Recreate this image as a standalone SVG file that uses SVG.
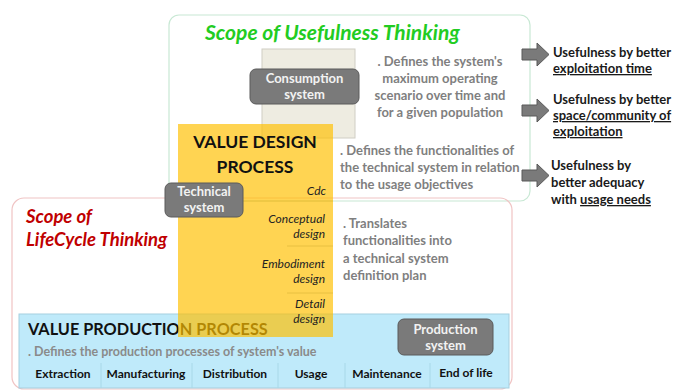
<svg xmlns="http://www.w3.org/2000/svg" width="676" height="390" viewBox="0 0 676 390">
<style>
text{font-family:Lato,"Liberation Sans",sans-serif;font-weight:bold}
.gray{fill:#7f7f7f;font-size:13px}
.blk{fill:#1a1a1a;font-size:13px}
.box{fill:#7a7a7a;stroke:#5a5a5a;stroke-width:1}
.boxt{fill:#f2f2f2;font-size:13px;text-anchor:middle;font-weight:bold}
.stage{fill:#222;font-size:12px;font-style:italic;font-weight:normal;text-anchor:end}
.phase{fill:#111;font-size:12px;text-anchor:middle}
.sep{stroke:#e8c040;stroke-width:1}
.vsep{stroke:#a8d8e8;stroke-width:1}
.arr{fill:#7a7a7a;stroke:#595959;stroke-width:1}
</style>
<rect width="676" height="390" fill="#ffffff"/>
<g id="scope-usefulness">
<rect x="169" y="15" width="361" height="186" rx="10" fill="none" stroke="#c8e8d4" stroke-width="1.2"/>
<text x="205" y="40" font-size="21" font-style="italic" fill="#22cc22">Scope of Usefulness Thinking</text>
</g>
<g id="scope-lifecycle">
<rect x="12" y="198" width="500" height="191" rx="12" fill="none" stroke="#f0c4c4" stroke-width="1.2"/>
<text x="26" y="223" font-size="18.5" font-style="italic" fill="#c00000">Scope of</text>
<text x="26" y="246" font-size="18.5" font-style="italic" fill="#c00000">LifeCycle Thinking</text>
</g>
<g id="consumption-area">
<rect x="262" y="49" width="93" height="89" fill="#eeece1" stroke="#d0cec4" stroke-width="1"/>
</g>
<g id="consumption-system">
<rect class="box" x="250" y="69" width="109" height="35" rx="6"/>
<text class="boxt" x="304.5" y="83">Consumption</text>
<text class="boxt" x="304.5" y="99">system</text>
</g>
<g id="value-production">
<rect x="19" y="314" width="490" height="74" fill="#bfeafa" stroke="#a6cfdf" stroke-width="1"/>
<text x="28" y="335" font-size="16.3" fill="#111">VALUE PRODUCTION PROCESS</text>
<text x="28" y="356" font-size="12.5" fill="#8a8a8a">. Defines the production processes of system's value</text>
<g id="phases">
<line class="vsep" x1="101" y1="363" x2="101" y2="388"/>
<line class="vsep" x1="192" y1="363" x2="192" y2="388"/>
<line class="vsep" x1="278" y1="363" x2="278" y2="388"/>
<line class="vsep" x1="345" y1="363" x2="345" y2="388"/>
<line class="vsep" x1="430" y1="363" x2="430" y2="388"/>
<text class="phase" x="63" y="378">Extraction</text>
<text class="phase" x="146" y="378">Manufacturing</text>
<text class="phase" x="235" y="378">Distribution</text>
<text class="phase" x="311" y="378">Usage</text>
<text class="phase" x="387" y="378">Maintenance</text>
<text class="phase" x="466" y="377">End of life</text>
</g>
</g>
<g id="value-design">
<rect x="178" y="124" width="155" height="213" fill="#ffc000" fill-opacity="0.68"/>
<text x="255" y="148" font-size="17.5" fill="#111" text-anchor="middle">VALUE DESIGN</text>
<text x="255" y="173" font-size="17.5" fill="#111" text-anchor="middle">PROCESS</text>
<line class="sep" x1="243" y1="201" x2="333" y2="201"/>
<line class="sep" x1="287" y1="246" x2="333" y2="246"/>
<line class="sep" x1="287" y1="293" x2="333" y2="293"/>
<text class="stage" x="326" y="195">Cdc</text>
<text class="stage" x="325" y="223">Conceptual</text>
<text class="stage" x="325" y="238">design</text>
<text class="stage" x="325" y="268">Embodiment</text>
<text class="stage" x="325" y="283">design</text>
<text class="stage" x="325" y="308">Detail</text>
<text class="stage" x="325" y="323">design</text>
</g>
<g id="technical-system">
<rect class="box" x="165" y="183" width="78" height="34" rx="6"/>
<text class="boxt" x="204" y="196">Technical</text>
<text class="boxt" x="204" y="212">system</text>
</g>
<g id="production-system">
<rect class="box" x="398" y="319" width="95" height="36" rx="6"/>
<text class="boxt" x="445.5" y="334">Production</text>
<text class="boxt" x="445.5" y="350">system</text>
</g>
<g id="desc-usefulness" text-anchor="middle">
<text class="gray" x="440" y="66">. Defines the system's</text>
<text class="gray" x="440" y="83">maximum operating</text>
<text class="gray" x="440" y="100">scenario over time and</text>
<text class="gray" x="440" y="117">for a given population</text>
</g>
<g id="desc-design">
<text class="gray" x="340" y="155">. Defines the functionalities of</text>
<text class="gray" x="340" y="172">the technical system in relation</text>
<text class="gray" x="340" y="189">to the usage objectives</text>
</g>
<g id="desc-translate">
<text class="gray" x="343" y="228">. Translates</text>
<text class="gray" x="343" y="245">functionalities into</text>
<text class="gray" x="343" y="263">a technical system</text>
<text class="gray" x="343" y="280">definition plan</text>
</g>
<g id="connectors">
<path class="arr" d="M522,49 H537 V43 L549,54.5 L537,66 V60 H522 Z"/>
<path class="arr" d="M522,105 H537 V99 L549,110.5 L537,122 V116 H522 Z"/>
<path class="arr" d="M522,170 H537 V164 L549,175.5 L537,187 V181 H522 Z"/>
</g>
<g id="out-time">
<text class="blk" x="553" y="57">Usefulness by better</text>
<text class="blk" x="553" y="73" text-decoration="underline">exploitation time</text>
</g>
<g id="out-space">
<text class="blk" x="553" y="104">Usefulness by better</text>
<text class="blk" x="553" y="120" text-decoration="underline">space/community of</text>
<text class="blk" x="553" y="136" text-decoration="underline">exploitation</text>
</g>
<g id="out-needs">
<text class="blk" x="551" y="170">Usefulness by</text>
<text class="blk" x="551" y="187">better adequacy</text>
<text class="blk" x="551" y="204">with <tspan text-decoration="underline">usage needs</tspan></text>
</g>
</svg>
